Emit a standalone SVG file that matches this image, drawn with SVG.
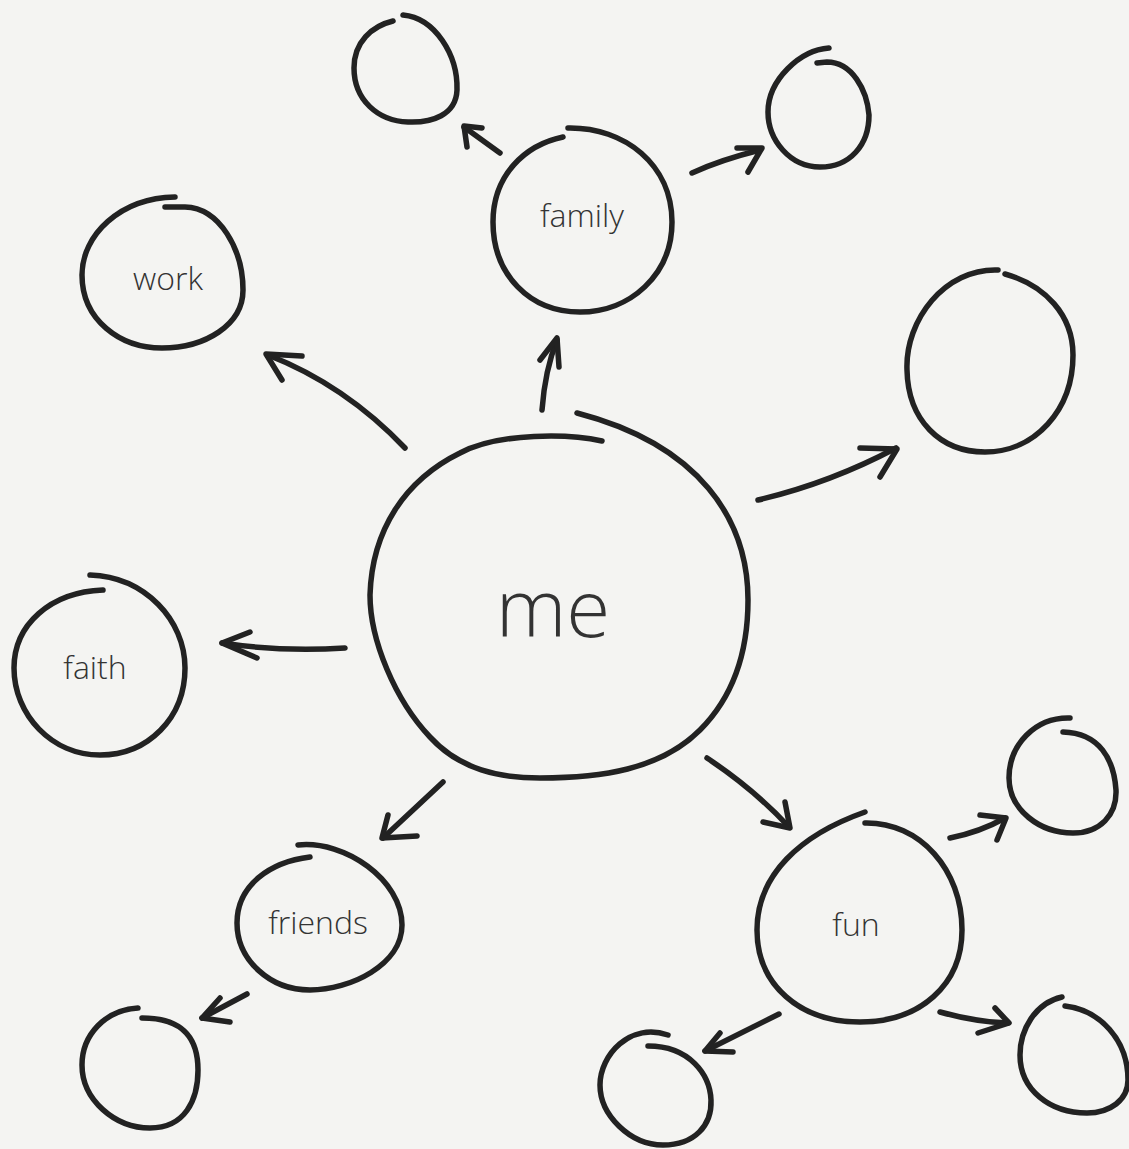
<svg xmlns="http://www.w3.org/2000/svg" width="1129" height="1149" viewBox="0 0 1129 1149">
<style>
.s{fill:none;stroke:#222;stroke-width:5.5;stroke-linecap:round;stroke-linejoin:round}
.t{font-family:"Open Sans","Noto Sans",sans-serif;font-weight:300;fill:#333;font-size:32px}
</style>
<rect width="1129" height="1149" fill="#f4f4f2"/>
<g id="node-me">
<path class="s" d="M602,441 C570,434 500,432 460,453 C405,480 372,530 370,595 C370,640 395,700 430,737 C460,770 500,778 540,778 C600,778 660,770 700,730 C735,695 748,650 748,600 C748,520 700,445 577,413"/>
<text class="t" x="553" y="637" text-anchor="middle" style="font-size:80px">me</text>
</g>
<g id="node-family">
<path class="s" d="M568,128 C625,127 672,165 672,222 C672,275 630,312 580,312 C530,312 493,275 493,222 C493,175 525,145 563,137"/>
<text class="t" x="582" y="227" text-anchor="middle">family</text>
</g>
<g id="node-family-left">
<path class="s" d="M403,15 C435,18 458,55 457,90 C456,115 432,123 408,122 C378,121 354,100 354,68 C354,42 372,26 393,21"/>
</g>
<g id="node-family-right">
<path class="s" d="M829,48 C800,50 768,80 768,112 C768,140 790,167 820,167 C850,167 869,145 869,115 C867,90 852,62 827,62 L817,63"/>
</g>
<g id="node-work">
<path class="s" d="M175,197 C120,198 82,235 82,275 C82,320 120,348 162,348 C205,348 243,325 243,290 C243,250 220,208 185,207 L165,207"/>
<text class="t" x="168" y="290" text-anchor="middle">work</text>
</g>
<g id="node-right">
<path class="s" d="M998,270 C945,268 905,320 907,370 C908,420 940,452 985,452 C1035,452 1073,410 1073,355 C1073,315 1045,285 1005,274"/>
</g>
<g id="node-faith">
<path class="s" d="M90,575 C145,577 185,620 185,668 C185,718 148,755 100,755 C52,755 14,715 14,668 C14,625 50,592 103,590"/>
<text class="t" x="95" y="679" text-anchor="middle">faith</text>
</g>
<g id="node-friends">
<path class="s" d="M298,845 C345,840 402,880 402,925 C402,965 350,990 310,990 C270,990 237,960 237,923 C237,885 270,862 310,857"/>
<text class="t" x="318" y="934" text-anchor="middle">friends</text>
</g>
<g id="node-friends-child">
<path class="s" d="M138,1008 C105,1010 82,1035 82,1065 C82,1100 115,1128 150,1128 C185,1128 198,1100 198,1070 C198,1040 185,1018 142,1018"/>
</g>
<g id="node-fun">
<path class="s" d="M865,812 C800,835 757,875 757,930 C757,985 800,1022 860,1022 C920,1022 962,985 962,930 C962,870 920,822 865,823"/>
<text class="t" x="856" y="936" text-anchor="middle">fun</text>
</g>
<g id="node-fun-top">
<path class="s" d="M1070,718 C1035,717 1009,745 1009,778 C1009,810 1040,833 1073,833 C1100,833 1117,815 1116,790 C1114,760 1100,733 1063,732"/>
</g>
<g id="node-fun-right">
<path class="s" d="M1062,997 C1035,1003 1020,1030 1020,1055 C1020,1090 1050,1113 1087,1113 C1110,1113 1128,1100 1128,1080 C1128,1040 1100,1010 1065,1006"/>
</g>
<g id="node-fun-left">
<path class="s" d="M668,1035 C630,1022 600,1055 600,1085 C600,1115 630,1145 663,1145 C695,1145 712,1125 711,1100 C710,1075 690,1046 648,1046"/>
</g>
<g id="connectors">
<path class="s" d="M405,448 Q345,385 268,355"/><path class="s" d="M302,356 L266,354 L282,380"/>
<path class="s" d="M542,410 Q545,370 557,340"/><path class="s" d="M540,360 L557,338 L559,367"/>
<path class="s" d="M500,153 L464,127"/><path class="s" d="M482,128 L464,126 L467,147"/>
<path class="s" d="M692,173 Q720,160 760,150"/><path class="s" d="M737,148 L762,148 L748,172"/>
<path class="s" d="M758,500 Q830,483 896,448"/><path class="s" d="M860,448 L897,449 L880,477"/>
<path class="s" d="M345,648 Q280,652 222,643"/><path class="s" d="M250,632 L222,643 L257,658"/>
<path class="s" d="M443,782 L383,838"/><path class="s" d="M388,815 L382,838 L417,836"/>
<path class="s" d="M247,994 L202,1018"/><path class="s" d="M220,998 L202,1018 L230,1022"/>
<path class="s" d="M707,758 Q755,790 789,827"/><path class="s" d="M785,802 L790,828 L763,822"/>
<path class="s" d="M950,838 Q980,832 1005,818"/><path class="s" d="M980,815 L1006,818 L997,840"/>
<path class="s" d="M940,1012 Q975,1022 1008,1023"/><path class="s" d="M995,1008 L1009,1023 L978,1033"/>
<path class="s" d="M779,1014 L705,1051"/><path class="s" d="M720,1033 L705,1051 L733,1052"/>
</g>
</svg>
